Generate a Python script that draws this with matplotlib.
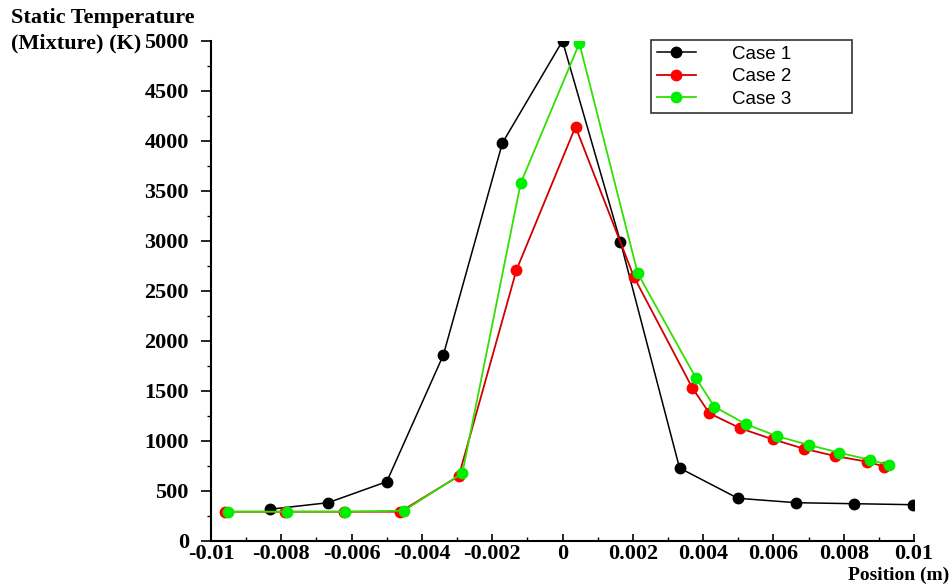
import matplotlib
matplotlib.use("Agg")
import matplotlib.pyplot as plt
from matplotlib.ticker import MultipleLocator, FixedLocator, FixedFormatter

# ---- data ----
case1_x = [-0.00833, -0.00667, -0.0050, -0.00339, -0.00171, 0.0, 0.00165, 0.00333, 0.00499, 0.00665, 0.00829, 0.00997]
case1_y = [317, 383, 593, 1860, 3980, 5000, 2990, 730, 427, 383, 373, 363]

case2_x = [-0.0096, -0.0079, -0.00622, -0.00461, -0.00295, -0.00131, 0.00037, 0.00203,
           0.00369, 0.00418, 0.00506, 0.00598, 0.00687, 0.00775, 0.00867, 0.00916]
case2_y = [293, 293, 293, 293, 650, 2710, 4143, 2643, 1533, 1277, 1127, 1017, 923, 850, 793, 743]

case3_x = [-0.00951, -0.00785, -0.00619, -0.00451, -0.00285, -0.00119, 0.00048, 0.00214,
           0.0038, 0.00432, 0.00521, 0.00609, 0.00701, 0.00788, 0.00876, 0.00928]
case3_y = [293, 293, 293, 303, 677, 3577, 4977, 2677, 1627, 1343, 1170, 1050, 960, 883, 810, 760]

labels = ["Case 1", "Case 2", "Case 3"]
xtick_vals = [-0.01, -0.008, -0.006, -0.004, -0.002, 0, 0.002, 0.004, 0.006, 0.008, 0.01]
xtick_labels = ["-0.01", "-0.008", "-0.006", "-0.004", "-0.002", "0", "0.002", "0.004", "0.006", "0.008", "0.01"]
ytick_vals = [0, 500, 1000, 1500, 2000, 2500, 3000, 3500, 4000, 4500, 5000]

serif = ["Liberation Serif", "DejaVu Serif"]
sans = ["Liberation Sans", "DejaVu Sans"]
FS = 16

fig = plt.figure(figsize=(9.51, 5.86), dpi=100)
ax_l, ax_r, ax_t, ax_b = 211, 914, 41, 541
ax = fig.add_axes([ax_l/951, 1-ax_b/586, (ax_r-ax_l)/951, (ax_b-ax_t)/586])

ax.plot(case1_x, case1_y, color="black", lw=1.1, marker="o", ms=7.5, mfc="black", mec="black", label=labels[0], zorder=3)
ax.plot(case2_x, case2_y, color="#d00000", lw=1.3, marker="o", ms=7.5, mfc="#ff0000", mec="#ff0000", label=labels[1], zorder=4)
ax.plot(case3_x, case3_y, color="#30e000", lw=1.3, marker="o", ms=7.5, mfc="#00ee00", mec="#00ee00", label=labels[2], zorder=5)

ax.set_xlim(-0.01, 0.01)
ax.set_ylim(0, 5000)
ax.spines["top"].set_visible(False)
ax.spines["right"].set_visible(False)
for s in ("left", "bottom"):
    ax.spines[s].set_linewidth(1.5)

ax.xaxis.set_major_locator(FixedLocator(xtick_vals))
ax.xaxis.set_major_formatter(FixedFormatter(xtick_labels))
ax.xaxis.set_minor_locator(MultipleLocator(0.001))
ax.yaxis.set_major_locator(FixedLocator(ytick_vals))
ax.yaxis.set_minor_locator(MultipleLocator(250))

ax.tick_params(axis="x", which="major", direction="in", length=5, width=1.2, pad=2.5)
ax.tick_params(axis="x", which="minor", direction="in", length=3, width=1.0)
ax.tick_params(axis="y", which="major", direction="out", length=7, width=1.2, pad=9)
ax.tick_params(axis="y", which="minor", direction="out", length=3, width=1.0)

for lab in ax.get_xticklabels() + ax.get_yticklabels():
    lab.set_fontfamily(serif)
    lab.set_fontweight("bold")
    lab.set_fontsize(FS)

W = ax_r - ax_l
H = ax_b - ax_t
leg = ax.legend(loc="upper left",
                bbox_to_anchor=((651-ax_l)/W, 1-(110-ax_t)/H, (852-651)/W, (110-40)/H),
                mode="expand",
                prop={"family": sans, "size": 13.5}, frameon=True, fancybox=False,
                edgecolor="black", handlelength=2.1, handletextpad=1.9,
                borderpad=0.3, labelspacing=0.28, borderaxespad=0.0)
leg.get_frame().set_linewidth(1.2)

fig.text(11/951, 1-18/586, "Static Temperature", ha="left", va="center",
         fontfamily=serif, fontweight="bold", fontsize=FS)
fig.text(11/951, 1-43/586, "(Mixture) (K)", ha="left", va="center",
         fontfamily=serif, fontweight="bold", fontsize=FS)
fig.text(949/951, 1.5/586, "Position (m)", ha="right", va="bottom",
         fontfamily=serif, fontweight="bold", fontsize=14)

fig.savefig("out.png", dpi=100)
